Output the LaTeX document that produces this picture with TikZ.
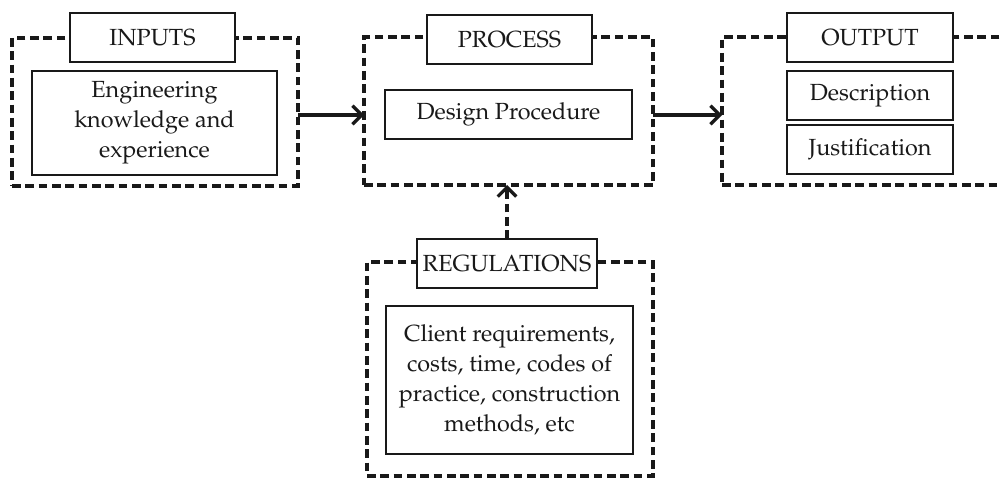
\documentclass[tikz,border=0pt]{standalone}
\usepackage[T1]{fontenc}
\usepackage{mathpazo}
\usetikzlibrary{arrows.meta}
\begin{document}
\begin{tikzpicture}[x=0.75pt,y=-0.75pt,
  every node/.style={inner sep=0pt, outer sep=0pt, text=black!90, font=\fontsize{17.5}{22.5}\selectfont, align=center},
  group/.style={draw=black!90, line width=2.4pt, dash pattern=on 6.5pt off 3.5pt},
  box/.style={draw=black!90, line width=1.6pt, fill=white},
  arr/.style={draw=black!90, line width=2.4pt, -{Straight Barb[length=7pt,width=14pt,line width=2.4pt]}}
]
\useasboundingbox (0,0) rectangle (1001,478);
% groups
\node[group, minimum width=214.5pt, minimum height=111pt] (inG) at (155,112) {};
\node[group, minimum width=216.75pt, minimum height=111pt] (prG) at (508.5,111) {};
\node[group, minimum width=223.5pt, minimum height=111pt] (ouG) at (871,111) {};
\node[group, minimum width=214.5pt, minimum height=160.5pt] (rgG) at (510,369) {};
% titles
\node[box, minimum width=123.75pt, minimum height=36.75pt] (inT) at (152.5,37.5) {INPUTS};
\node[box, minimum width=123.75pt, minimum height=36.75pt] (prT) at (509.5,39.5) {PROCESS};
\node[box, minimum width=124.5pt, minimum height=36.75pt] (ouT) at (870,37.5) {OUTPUT};
\node[box, minimum width=135pt, minimum height=36.75pt] (rgT) at (507,263.5) {REGULATIONS};
% inner boxes
\node[box, minimum width=183.75pt, minimum height=78pt] (eng) at (154.5,123) {Engineering\\knowledge and\\experience};
\node[box, minimum width=185.25pt, minimum height=36.75pt] (dp) at (508.5,114.5) {Design Procedure};
\node[box, minimum width=124.5pt, minimum height=36.75pt] (desc) at (870,95.5) {Description};
\node[box, minimum width=124.5pt, minimum height=36.75pt] (just) at (870,149.5) {Justification};
\node[box, minimum width=185.25pt, minimum height=111pt] (cli) at (509.5,380) {Client requirements,\\costs, time, codes of\\practice, construction\\methods, etc};
% connectors
\draw[arr] ([yshift=-2.25pt]inG.east) -- ([yshift=-3pt]prG.west);
\draw[arr] ([yshift=-3pt]prG.east) -- ([yshift=-3pt]ouG.west);
\draw[arr, dash pattern=on 6.5pt off 3.5pt] (rgT.north) -- (rgT.north |- prG.south);
\end{tikzpicture}
\end{document}
